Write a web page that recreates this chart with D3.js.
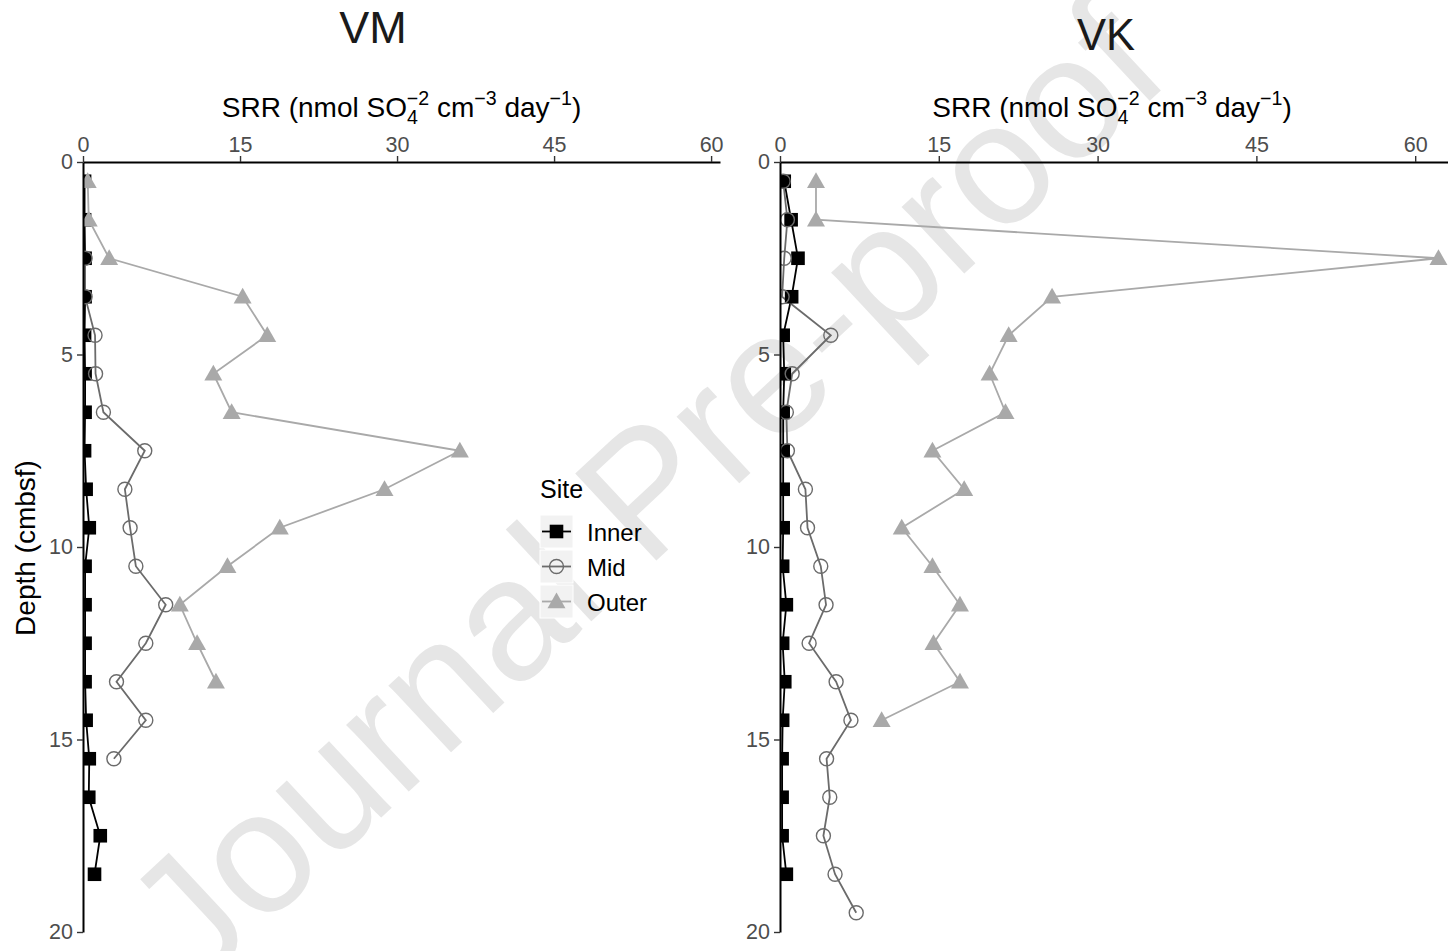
<!DOCTYPE html>
<html>
<head>
<meta charset="utf-8">
<title>SRR depth profiles</title>
<script src="https://cdn.jsdelivr.net/npm/d3@7"></script>
<style>
  body { margin: 0; background: #fff; }
  svg { display: block; font-family: "Liberation Sans", Arial, Helvetica, sans-serif; }
</style>
</head>
<body>
<div id="container"></div>
<script>
// ---- data ----
var sites = ["Inner", "Mid", "Outer"];
var xTicks = [0, 15, 30, 45, 60];
var yTicks = [0, 5, 10, 15, 20];

// VM core
var vmInnerDepth = [0.5,1.5,2.5,3.5,4.5,5.5,6.5,7.5,8.5,9.5,10.5,11.5,12.5,13.5,14.5,15.5,16.5,17.5,18.5];
var vmInnerSRR   = [0.15,0.15,0.2,0.2,0.15,0.2,0.2,0.15,0.3,0.6,0.2,0.2,0.2,0.2,0.3,0.6,0.55,1.65,1.1];
var vmMidDepth   = [2.5,3.5,4.5,5.5,6.5,7.5,8.5,9.5,10.5,11.5,12.5,13.5,14.5,15.5];
var vmMidSRR     = [0.2,0.2,1.15,1.2,1.95,5.9,4.0,4.5,5.05,7.9,6.0,3.2,6.0,2.95];
var vmOuterDepth = [0.5,1.5,2.5,3.5,4.5,5.5,6.5,7.5,8.5,9.5,10.5,11.5,12.5,13.5];
var vmOuterSRR   = [0.45,0.55,2.5,15.25,17.6,12.45,14.2,36.0,28.8,18.8,13.8,9.25,10.9,12.7];

// VK core
var vkInnerDepth = [0.5,1.5,2.5,3.5,4.5,5.5,6.5,7.5,8.5,9.5,10.5,11.5,12.5,13.5,14.5,15.5,16.5,17.5,18.5];
var vkInnerSRR   = [0.4,1.05,1.7,1.1,0.3,0.4,0.3,0.3,0.3,0.3,0.25,0.6,0.25,0.45,0.25,0.2,0.2,0.2,0.6];
var vkMidDepth   = [0.5,1.5,2.5,3.5,4.5,5.5,6.5,7.5,8.5,9.5,10.5,11.5,12.5,13.5,14.5,15.5,16.5,17.5,18.5,19.5];
var vkMidSRR     = [0.3,0.7,0.4,0.2,4.8,1.15,0.6,0.7,2.4,2.6,3.85,4.35,2.75,5.3,6.7,4.4,4.7,4.1,5.2,7.2];
var vkOuterDepth = [0.5,1.5,2.5,3.5,4.5,5.5,6.5,7.5,8.5,9.5,10.5,11.5,12.5,13.5,14.5];
var vkOuterSRR   = [3.4,3.4,62.2,25.7,21.6,19.8,21.3,14.4,17.4,11.5,14.4,17.0,14.5,17.0,9.6];

function pairs(depth, srr) {
  return depth.map(function(d, i) { return {depth: d, srr: srr[i]}; });
}

var panels = [
  {title: "VM", x0: 83, x1: 720, xmax: 60.85, titleX: 373, titleY: 43, titleSize: 45,
   series: [pairs(vmInnerDepth, vmInnerSRR), pairs(vmMidDepth, vmMidSRR), pairs(vmOuterDepth, vmOuterSRR)]},
  {title: "VK", x0: 780, x1: 1448, xmax: 63.1, titleX: 1106, titleY: 50, titleSize: 43.5,
   series: [pairs(vkInnerDepth, vkInnerSRR), pairs(vkMidDepth, vkMidSRR), pairs(vkOuterDepth, vkOuterSRR)]}
];

var width = 1448, height = 951;
var yTop = 162, yBottom = 932;

var lineColor = d3.scaleOrdinal().domain(sites).range(["#000000", "#6b6b6b", "#a9a9a9"]);
var tickColor = "#4d4d4d";

var svg = d3.select("#container").append("svg")
  .attr("width", width)
  .attr("height", height);

// watermark
svg.append("text")
  .attr("transform", "translate(196,990) rotate(-43)")
  .attr("text-anchor", "start")
  .style("font-size", "173px")
  .style("fill", "#e6e6e6")
  .text("Journal Pre-proof");

var y = d3.scaleLinear().domain([0, 20]).range([yTop, yBottom]);

function drawPoint(g, site, color) {
  if (site === "Inner") {
    g.append("rect").attr("x", -6.8).attr("y", -6.8).attr("width", 13.6).attr("height", 13.6)
      .style("fill", "#000");
  } else if (site === "Mid") {
    g.append("circle").attr("r", 7).style("fill", "none")
      .style("stroke", color).style("stroke-width", 1.4);
  } else {
    g.append("path").attr("d", d3.symbol().type(d3.symbolTriangle).size(140)())
      .attr("transform", "translate(0,1.5)")
      .style("fill", color);
  }
}

panels.forEach(function(p, pi) {
  var x = d3.scaleLinear().domain([0, p.xmax]).range([p.x0, p.x1]);
  var line = d3.line()
    .x(function(d) { return x(d.srr); })
    .y(function(d) { return y(d.depth); });

  svg.append("clipPath").attr("id", "clip" + pi)
    .append("rect")
    .attr("x", p.x0).attr("y", yTop)
    .attr("width", p.x1 - p.x0).attr("height", yBottom - yTop);

  var panel = svg.append("g").attr("clip-path", "url(#clip" + pi + ")");

  p.series.forEach(function(s, si) {
    panel.append("path")
      .datum(s)
      .attr("d", line)
      .style("fill", "none")
      .style("stroke", lineColor(sites[si]))
      .style("stroke-width", 1.8);
  });

  p.series.forEach(function(s, si) {
    panel.selectAll(".pt" + si)
      .data(s)
      .enter().append("g")
      .attr("class", "pt" + si)
      .attr("transform", function(d) { return "translate(" + x(d.srr) + "," + y(d.depth) + ")"; })
      .each(function() { drawPoint(d3.select(this), sites[si], lineColor(sites[si])); });
  });

  // top x axis
  var xa = svg.append("g")
    .attr("transform", "translate(0," + yTop + ")")
    .call(d3.axisTop(x).tickValues(xTicks).tickSize(6).tickPadding(4).tickSizeOuter(0));
  xa.select(".domain").style("stroke", "#000").style("stroke-width", 2);
  xa.selectAll(".tick line").style("stroke", "#333").style("stroke-width", 1.4);
  xa.selectAll(".tick text").style("font-size", "21.5px").style("fill", tickColor)
    .style("font-family", "'Liberation Sans', Arial, sans-serif");

  // left y axis
  var ya = svg.append("g")
    .attr("transform", "translate(" + p.x0 + ",0)")
    .call(d3.axisLeft(y).tickValues(yTicks).tickSize(6).tickPadding(4).tickSizeOuter(0));
  ya.select(".domain").style("stroke", "#000").style("stroke-width", 2);
  ya.selectAll(".tick line").style("stroke", "#333").style("stroke-width", 1.4);
  ya.selectAll(".tick text").style("font-size", "21.5px").style("fill", tickColor)
    .style("font-family", "'Liberation Sans', Arial, sans-serif");

  // titles
  svg.append("text")
    .attr("x", p.titleX).attr("y", p.titleY)
    .attr("text-anchor", "middle")
    .style("font-size", p.titleSize + "px")
    .style("fill", "#1a1a1a")
    .text(p.title);

  var xt = svg.append("text")
    .attr("x", (p.x0 + p.x1) / 2 - (pi === 0 ? 0 : 2)).attr("y", 117)
    .attr("text-anchor", "middle")
    .style("font-size", "28px")
    .style("fill", "#000");
  xt.append("tspan").text("SRR (nmol SO");
  xt.append("tspan").attr("dy", 7).style("font-size", "19.6px").text("4");
  xt.append("tspan").attr("dx", -11).attr("dy", -19).style("font-size", "19.6px").text("\u22122");
  xt.append("tspan").attr("dy", 12).text(" cm");
  xt.append("tspan").attr("dy", -12).style("font-size", "19.6px").text("\u22123");
  xt.append("tspan").attr("dy", 12).text(" day");
  xt.append("tspan").attr("dy", -12).style("font-size", "19.6px").text("\u22121");
  xt.append("tspan").attr("dy", 12).text(")");
});

// y axis title
svg.append("text")
  .attr("transform", "translate(35,548) rotate(-90)")
  .attr("text-anchor", "middle")
  .style("font-size", "28px")
  .style("fill", "#000")
  .text("Depth (cmbsf)");

// legend
var legend = svg.append("g").attr("transform", "translate(540,0)");
legend.append("text").attr("x", 0).attr("y", 498)
  .style("font-size", "25px").text("Site");

var keys = legend.selectAll(".key")
  .data(sites)
  .enter().append("g")
  .attr("class", "key")
  .attr("transform", function(d, i) { return "translate(0," + (515 + i * 35) + ")"; });

keys.append("rect")
  .attr("width", 33).attr("height", 33)
  .style("fill", "#f2f2f2")
  .style("stroke", "#ffffff").style("stroke-width", 1);
keys.append("line")
  .attr("x1", 2).attr("x2", 31).attr("y1", 16.5).attr("y2", 16.5)
  .style("stroke", function(d) { return lineColor(d); })
  .style("stroke-width", 1.8);
keys.append("g")
  .attr("transform", "translate(16.5,16.5)")
  .each(function(d) { drawPoint(d3.select(this), d, lineColor(d)); });
keys.append("text")
  .attr("x", 47).attr("y", 25.5)
  .style("font-size", "24px")
  .text(function(d) { return d; });
</script>
</body>
</html>
